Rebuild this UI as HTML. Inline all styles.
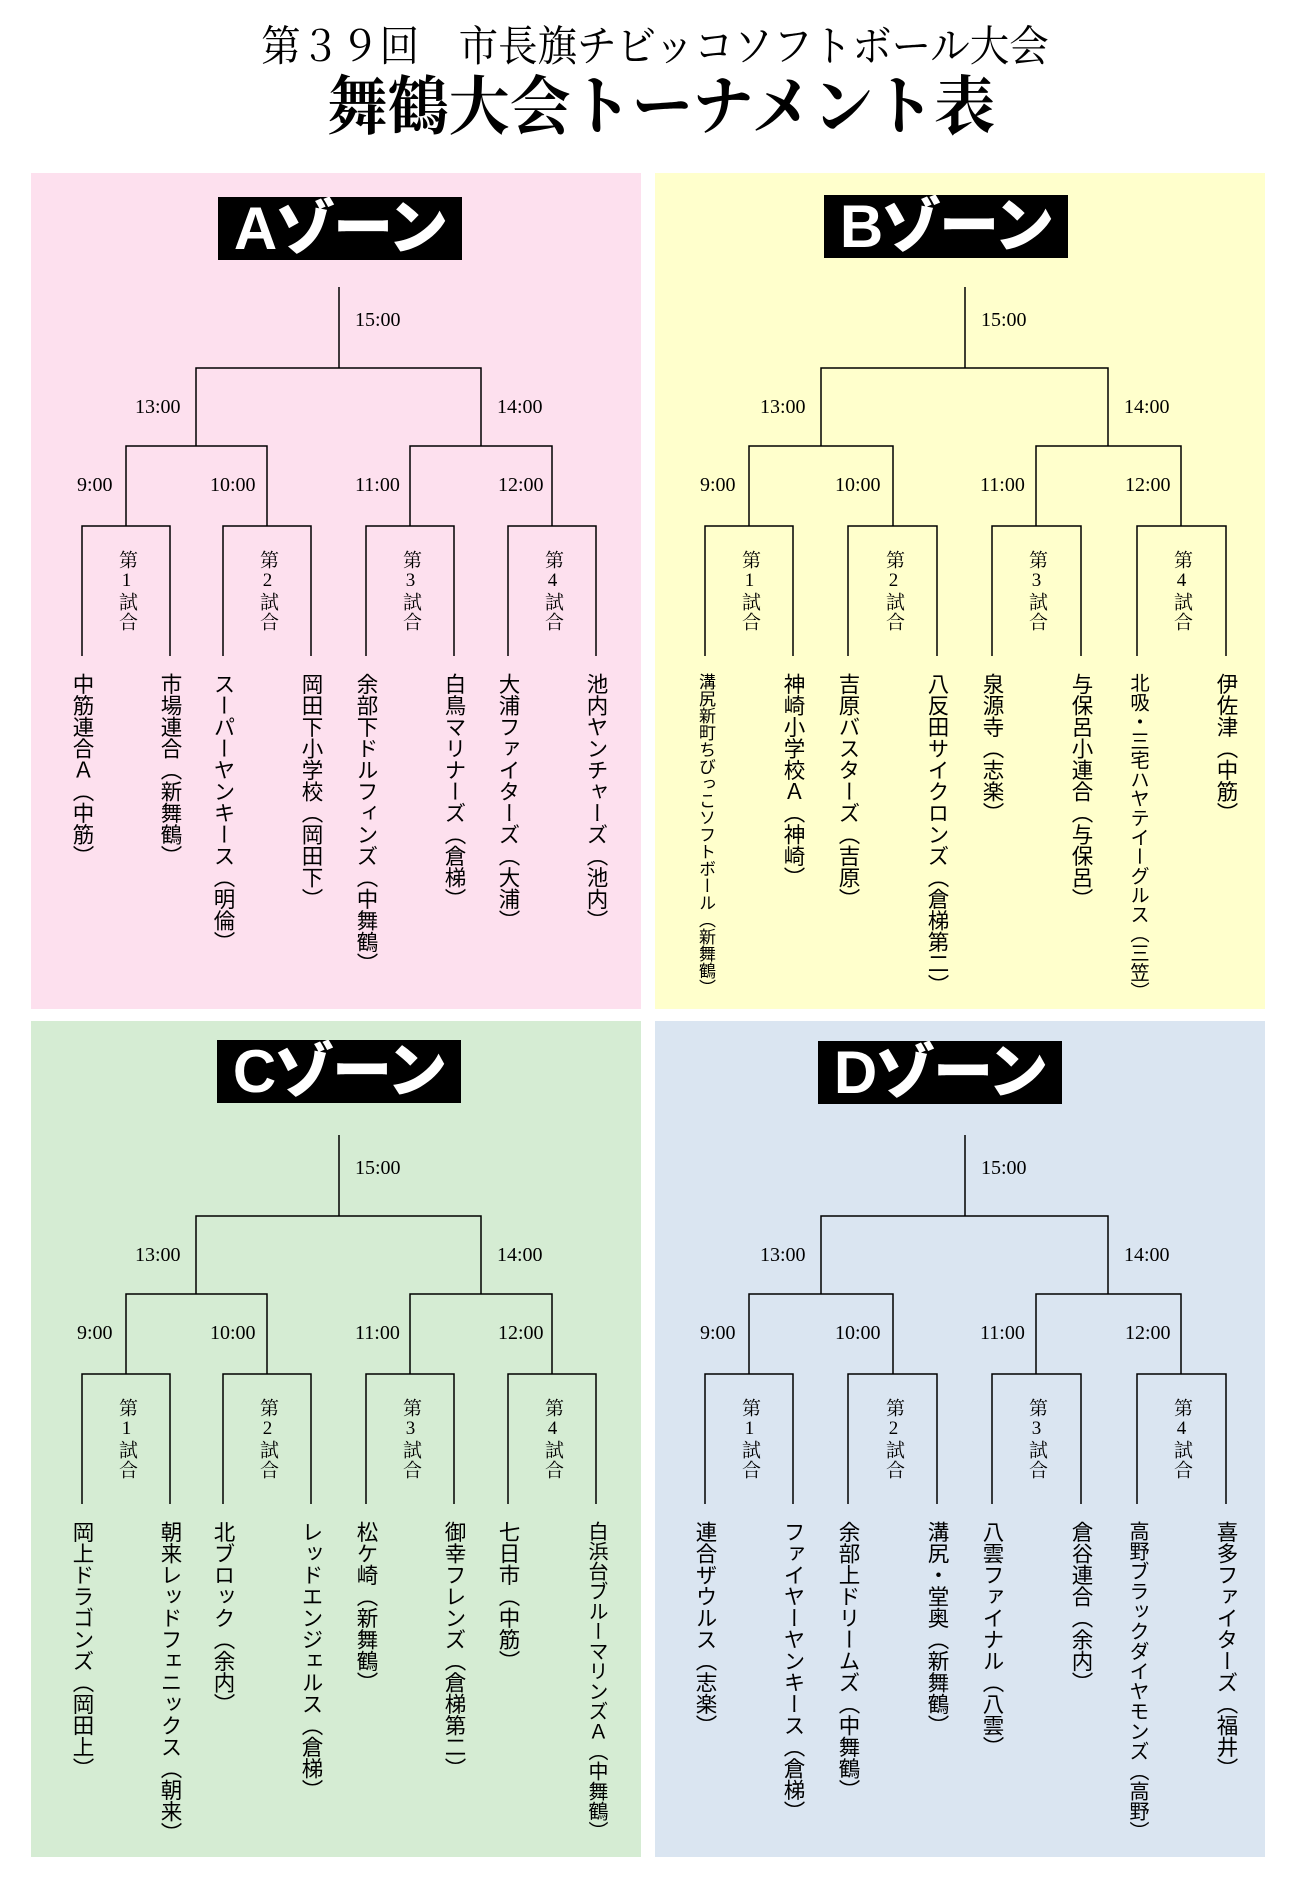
<!DOCTYPE html>
<html><head><meta charset="utf-8">
<style>
*{margin:0;padding:0;box-sizing:border-box}
body{width:1296px;height:1896px;background:#fff;position:relative;overflow:hidden}
.t1{position:absolute;left:0;width:1310px;top:24px;text-align:center;font-family:"Liberation Serif","Noto Serif CJK SC",serif;font-size:39.5px;line-height:46px;color:#000;transform:scaleY(1.08)}
.t2{position:absolute;left:0;width:1322px;top:76px;text-align:center;font-family:"Liberation Serif","Noto Serif CJK SC",serif;font-size:61px;font-weight:bold;line-height:66px;color:#000;transform:scaleY(1.05)}
.z{position:absolute;height:836px}
.lb{position:absolute;width:244px;height:63px;background:#000;color:#fff;font-family:"Liberation Sans","Noto Sans CJK JP",sans-serif;font-weight:900;font-size:60px;line-height:63px;text-align:center;letter-spacing:-2px;white-space:nowrap;overflow:hidden}
.z svg{position:absolute;left:0;top:0}
.tm{position:absolute;font-family:"Liberation Serif",serif;font-size:20px;line-height:20px;color:#000}
.g{position:absolute;top:377px;width:22px;writing-mode:vertical-rl;text-orientation:upright;font-family:"Liberation Serif","Noto Serif CJK SC",serif;font-size:19px;line-height:22px;letter-spacing:1px}
.n{position:absolute;top:500px;width:26px;writing-mode:vertical-rl;font-family:"Liberation Sans","Noto Sans CJK JP",sans-serif;font-size:21.5px;line-height:26px;color:#000;white-space:nowrap}
</style></head><body>
<div class="t1">第３９回　市長旗チビッコソフトボール大会</div>
<div class="t2">舞鶴大会トーナメント表</div>

<div class="z" style="left:31px;top:173px;width:610px;background:#fde0ee">
<div class="lb" style="left:187px;top:24px">Aゾーン</div>
<svg width="610" height="836" stroke="#000" stroke-width="1.5" fill="none">
<path d="M308 114V195M165 273V195H450V273M95 353V273H236V353M379 353V273H521V353M51 483V353H139V483M192 483V353H280V483M335 483V353H423V483M477 483V353H565V483"/></svg>
<div class="tm" style="left:324px;top:137px">15:00</div>
<div class="tm" style="left:104px;top:224px">13:00</div>
<div class="tm" style="left:466px;top:224px">14:00</div>
<div class="tm" style="left:46px;top:302px">9:00</div>
<div class="tm" style="left:179px;top:302px">10:00</div>
<div class="tm" style="left:324px;top:302px">11:00</div>
<div class="tm" style="left:467px;top:302px">12:00</div>
<div class="g" style="left:84px">第1試合</div><div class="g" style="left:225px">第2試合</div><div class="g" style="left:368px">第3試合</div><div class="g" style="left:510px">第4試合</div>
<div class="n" style="left:38px">中筋連合Ａ（中筋）</div>
<div class="n" style="left:126px">市場連合（新舞鶴）</div>
<div class="n" style="left:179px">スーパーヤンキース（明倫）</div>
<div class="n" style="left:267px">岡田下小学校（岡田下）</div>
<div class="n" style="left:322px">余部下ドルフィンズ（中舞鶴）</div>
<div class="n" style="left:410px">白鳥マリナーズ（倉梯）</div>
<div class="n" style="left:464px">大浦ファイターズ（大浦）</div>
<div class="n" style="left:552px">池内ヤンチャーズ（池内）</div>
</div>

<div class="z" style="left:655px;top:173px;width:610px;background:#ffffcc">
<div class="lb" style="left:169px;top:22px">Bゾーン</div>
<svg width="610" height="836" stroke="#000" stroke-width="1.5" fill="none">
<path d="M310 114V195M166 273V195H453V273M94 353V273H238V353M381 353V273H526V353M50 483V353H138V483M193 483V353H282V483M337 483V353H426V483M482 483V353H571V483"/></svg>
<div class="tm" style="left:326px;top:137px">15:00</div>
<div class="tm" style="left:105px;top:224px">13:00</div>
<div class="tm" style="left:469px;top:224px">14:00</div>
<div class="tm" style="left:45px;top:302px">9:00</div>
<div class="tm" style="left:180px;top:302px">10:00</div>
<div class="tm" style="left:325px;top:302px">11:00</div>
<div class="tm" style="left:470px;top:302px">12:00</div>
<div class="g" style="left:83px">第1試合</div><div class="g" style="left:227px">第2試合</div><div class="g" style="left:370px">第3試合</div><div class="g" style="left:515px">第4試合</div>
<div class="n" style="left:37px;font-size:17px">溝尻新町ちびっこソフトボール（新舞鶴）</div>
<div class="n" style="left:125px">神崎小学校Ａ（神崎）</div>
<div class="n" style="left:180px">吉原バスターズ（吉原）</div>
<div class="n" style="left:269px">八反田サイクロンズ（倉梯第二）</div>
<div class="n" style="left:324px">泉源寺（志楽）</div>
<div class="n" style="left:413px">与保呂小連合（与保呂）</div>
<div class="n" style="left:469px;font-size:19.3px">北吸・三宅ハヤテイーグルス（三笠）</div>
<div class="n" style="left:558px">伊佐津（中筋）</div>
</div>

<div class="z" style="left:31px;top:1021px;width:610px;background:#d5ecd3">
<div class="lb" style="left:186px;top:19px">Cゾーン</div>
<svg width="610" height="836" stroke="#000" stroke-width="1.5" fill="none">
<path d="M308 114V195M165 273V195H450V273M95 353V273H236V353M379 353V273H521V353M51 483V353H139V483M192 483V353H280V483M335 483V353H423V483M477 483V353H565V483"/></svg>
<div class="tm" style="left:324px;top:137px">15:00</div>
<div class="tm" style="left:104px;top:224px">13:00</div>
<div class="tm" style="left:466px;top:224px">14:00</div>
<div class="tm" style="left:46px;top:302px">9:00</div>
<div class="tm" style="left:179px;top:302px">10:00</div>
<div class="tm" style="left:324px;top:302px">11:00</div>
<div class="tm" style="left:467px;top:302px">12:00</div>
<div class="g" style="left:84px">第1試合</div><div class="g" style="left:225px">第2試合</div><div class="g" style="left:368px">第3試合</div><div class="g" style="left:510px">第4試合</div>
<div class="n" style="left:38px">岡上ドラゴンズ（岡田上）</div>
<div class="n" style="left:126px">朝来レッドフェニックス（朝来）</div>
<div class="n" style="left:179px">北ブロック（余内）</div>
<div class="n" style="left:267px">レッドエンジェルス（倉梯）</div>
<div class="n" style="left:322px">松ケ崎（新舞鶴）</div>
<div class="n" style="left:410px">御幸フレンズ（倉梯第二）</div>
<div class="n" style="left:464px">七日市（中筋）</div>
<div class="n" style="left:552px;font-size:20px">白浜台ブルーマリンズＡ（中舞鶴）</div>
</div>

<div class="z" style="left:655px;top:1021px;width:610px;background:#dae5f1">
<div class="lb" style="left:163px;top:20px">Dゾーン</div>
<svg width="610" height="836" stroke="#000" stroke-width="1.5" fill="none">
<path d="M310 114V195M166 273V195H453V273M94 353V273H238V353M381 353V273H526V353M50 483V353H138V483M193 483V353H282V483M337 483V353H426V483M482 483V353H571V483"/></svg>
<div class="tm" style="left:326px;top:137px">15:00</div>
<div class="tm" style="left:105px;top:224px">13:00</div>
<div class="tm" style="left:469px;top:224px">14:00</div>
<div class="tm" style="left:45px;top:302px">9:00</div>
<div class="tm" style="left:180px;top:302px">10:00</div>
<div class="tm" style="left:325px;top:302px">11:00</div>
<div class="tm" style="left:470px;top:302px">12:00</div>
<div class="g" style="left:83px">第1試合</div><div class="g" style="left:227px">第2試合</div><div class="g" style="left:370px">第3試合</div><div class="g" style="left:515px">第4試合</div>
<div class="n" style="left:37px">連合ザウルス（志楽）</div>
<div class="n" style="left:125px">ファイヤーヤンキース（倉梯）</div>
<div class="n" style="left:180px">余部上ドリームズ（中舞鶴）</div>
<div class="n" style="left:269px">溝尻・堂奥（新舞鶴）</div>
<div class="n" style="left:324px">八雲ファイナル（八雲）</div>
<div class="n" style="left:413px">倉谷連合（余内）</div>
<div class="n" style="left:469px;font-size:20px">高野ブラックダイヤモンズ（高野）</div>
<div class="n" style="left:558px">喜多ファイターズ（福井）</div>
</div>
</body></html>
